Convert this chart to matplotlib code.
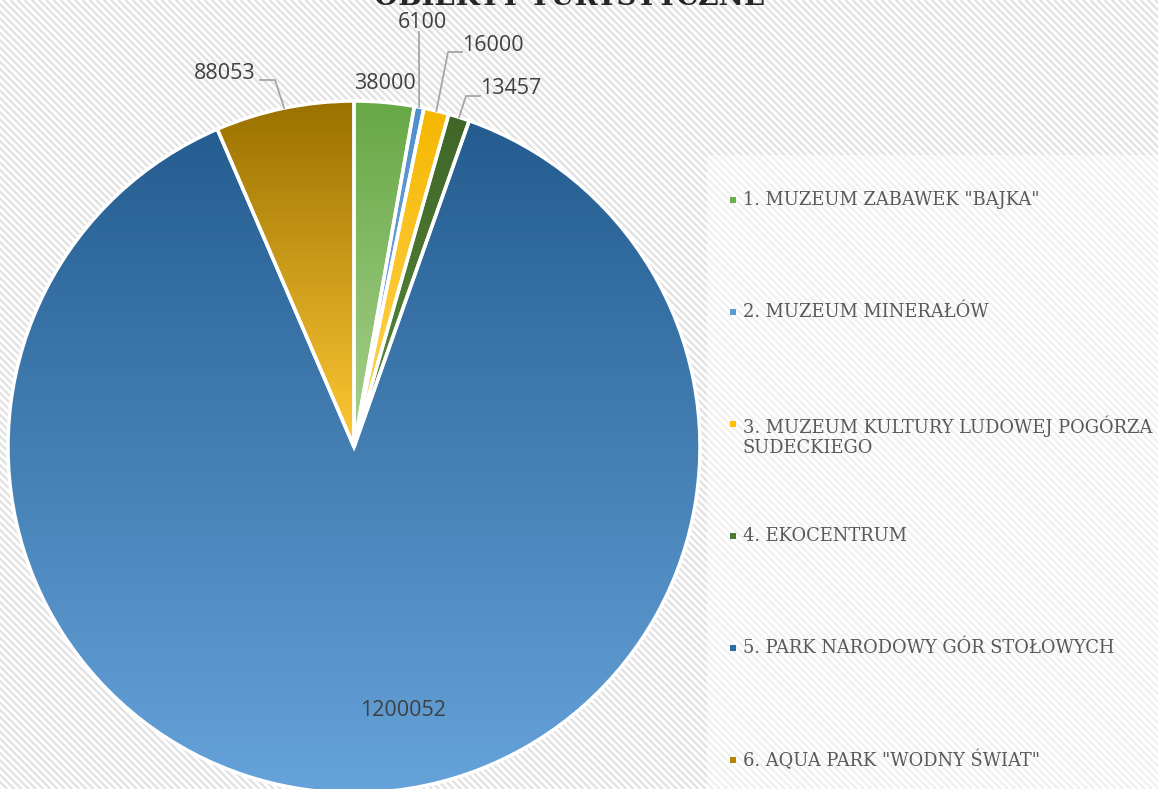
import matplotlib.pyplot as plt
import numpy as np
from matplotlib.colors import LinearSegmentedColormap
from matplotlib.collections import LineCollection
from matplotlib.patches import Rectangle

# Dane
labels = [
    "1. MUZEUM ZABAWEK \"BAJKA\"",
    "2. MUZEUM MINERAŁÓW",
    "3. MUZEUM KULTURY LUDOWEJ POGÓRZA\nSUDECKIEGO",
    "4. EKOCENTRUM",
    "5. PARK NARODOWY GÓR STOŁOWYCH",
    "6. AQUA PARK \"WODNY ŚWIAT\"",
]
values = [38000, 6100, 16000, 13457, 1200052, 88053]
# kolory gradientu (góra, dół) dla każdego wycinka
top_colors = ["#67a846", "#4f8fca", "#f5b800", "#3f6628", "#245c8f", "#9a7100"]
bottom_colors = ["#a9d18e", "#7fb2e2", "#ffd55c", "#5a8a3a", "#66a3da", "#ffc935"]
legend_colors = ["#70ad47", "#5b9bd5", "#ffc000", "#4a7a30", "#2e6aa6", "#b38600"]

W, H = 1158, 789
fig = plt.figure(figsize=(W / 100, H / 100), dpi=100)
ax = fig.add_axes([0, 0, 1, 1])
ax.set_xlim(0, W)
ax.set_ylim(0, H)
ax.axis("off")

# tło w paski (co ~7 px)
ax.add_patch(Rectangle((0, 0), W, H, facecolor="white", edgecolor="none", zorder=0))
offs = np.arange(-H, W + H, 7.2)
segs = [[(o, H), (o + H, 0)] for o in offs]
ax.add_collection(LineCollection(segs, colors="#e2e2e2", linewidths=1.7, zorder=0.1))
# jaśniejsze pole legendy
ax.add_patch(Rectangle((707, 0), W - 707, H - 155, facecolor="white", alpha=0.5,
                       edgecolor="none", zorder=0.2))

cx, cy, r = 354, H - 447, 346
wedges, _ = ax.pie(values, startangle=90, counterclock=False, center=(cx, cy), radius=r,
                   wedgeprops=dict(edgecolor="white", linewidth=2.5, zorder=2))
ax.set_xlim(0, W)
ax.set_ylim(0, H)
ax.set_aspect("auto")

for w, c0, c1 in zip(wedges, top_colors, bottom_colors):
    ext = w.get_path().get_extents()
    cmap = LinearSegmentedColormap.from_list("g", [c0, c1])
    grad = np.linspace(0, 1, 256).reshape(-1, 1)
    im = ax.imshow(grad, cmap=cmap, extent=[ext.x0, ext.x1, ext.y0, ext.y1],
                   aspect="auto", origin="upper", zorder=1.5, interpolation="bilinear")
    im.set_clip_path(w)
    w.set_facecolor("none")

# etykiety danych (pozycje w pikselach) i linie odniesienia
label_pos = [(385, 83), (422, 22), (493, 45), (511, 88), (403, 711), (225, 73)]
leaders = {
    1: [(419, 32)],
    2: [(462, 52), (448, 52)],
    3: [(480, 96), (466, 96)],
    5: [(260, 80), (275, 80)],
}
total = sum(values)
start = 90.0
for i, (v, (px, py)) in enumerate(zip(values, label_pos)):
    ang = start - 360.0 * v / total / 2
    start -= 360.0 * v / total
    ax.text(px, H - py, str(v), ha="center", va="center", fontsize=15.5,
            family="Open Sans", color="#404040", zorder=4)
    if i in leaders:
        ex = cx + r * np.cos(np.radians(ang))
        ey = cy + r * np.sin(np.radians(ang))
        pts = [(x, H - y) for x, y in leaders[i]] + [(ex, ey)]
        xs, ys = zip(*pts)
        ax.plot(xs, ys, color="#a6a6a6", linewidth=1.3, zorder=3)

# tytuł (ucięty u góry, jak w oryginale)
ax.text(569, H - 5, "OBIEKTY TURYSTYCZNE", ha="center", va="baseline", fontsize=20,
        fontweight="bold", family="DejaVu Serif", color="#262626", zorder=4)

# legenda
for i, (lab, col) in enumerate(zip(labels, legend_colors)):
    ly = H - (200 + 112 * i)
    ax.add_patch(Rectangle((730, ly - 3), 6, 6, facecolor=col, edgecolor="none", zorder=4))
    ax.text(743, ly + (9 if "\n" in lab else 0), lab, ha="left",
            va="top" if "\n" in lab else "center",
            fontsize=12.9, family="DejaVu Serif", color="#595959", zorder=4,
            linespacing=1.2)

fig.savefig("out.png", dpi=100)
